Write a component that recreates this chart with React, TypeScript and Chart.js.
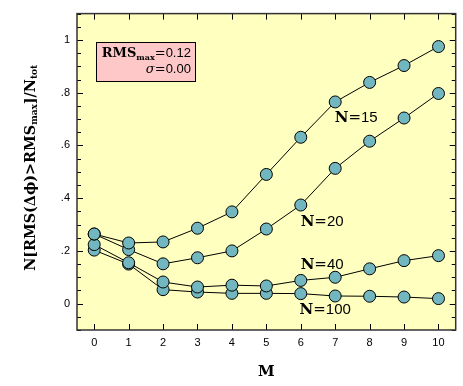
import React, { useEffect, useRef } from 'react';
import { Chart, registerables } from 'chart.js';

Chart.register(...registerables);

const mValues = [0, 1, 2, 3, 4, 5, 6, 7, 8, 9, 10];
const n15 = [0.264, 0.230, 0.234, 0.286, 0.348, 0.490, 0.631, 0.765, 0.839, 0.903, 0.975];
const n20 = [0.264, 0.205, 0.151, 0.174, 0.200, 0.283, 0.374, 0.513, 0.616, 0.704, 0.797];
const n40 = [0.224, 0.155, 0.082, 0.063, 0.070, 0.067, 0.088, 0.100, 0.132, 0.163, 0.182];
const n100 = [0.203, 0.150, 0.053, 0.044, 0.039, 0.039, 0.038, 0.029, 0.028, 0.025, 0.019];

const seriesNumbers = ['15', '20', '40', '100'];
const labelX = [7.61, 6.62, 6.62, 6.71];
const labelY = [0.703, 0.311, 0.148, -0.025];

const yTickValues = [0, 0.2, 0.4, 0.6, 0.8, 1];
const yTickLabels = ['0', '.2', '.4', '.6', '.8', '1'];
const xTickValues = mValues;

const BG = '#ffffc0';
const POINT = '#72b7bf';
const SERIF = '"DejaVu Serif", serif';
const SANS = '"Liberation Sans", Arial, sans-serif';

type Seg = { t: string; font: string; dy?: number };

function drawSegs(ctx: CanvasRenderingContext2D, segs: Seg[], x: number, y: number, align: 'left' | 'center' | 'right') {
  let total = 0;
  for (const s of segs) {
    ctx.font = s.font;
    total += ctx.measureText(s.t).width;
  }
  let cx = align === 'left' ? x : align === 'center' ? x - total / 2 : x - total;
  ctx.textAlign = 'left';
  for (const s of segs) {
    ctx.font = s.font;
    ctx.fillText(s.t, cx, y + (s.dy || 0));
    cx += ctx.measureText(s.t).width;
  }
}

const decorPlugin = {
  id: 'decor',
  beforeDraw(chart: any) {
    const { ctx, chartArea: a } = chart;
    ctx.save();
    ctx.fillStyle = BG;
    ctx.fillRect(a.left, a.top, a.right - a.left, a.bottom - a.top);
    ctx.restore();
  },
  afterDatasetsDraw(chart: any) {
    const { ctx } = chart;
    const xs = chart.scales.x;
    const ys = chart.scales.y;
    ctx.save();
    ctx.fillStyle = '#000';
    ctx.textBaseline = 'middle';
    for (let i = 0; i < seriesNumbers.length; i++) {
      const px = xs.getPixelForValue(labelX[i]);
      const py = ys.getPixelForValue(labelY[i]);
      drawSegs(ctx, [
        { t: 'N', font: `bold 15px ${SERIF}` },
        { t: '=', font: `15px ${SERIF}` },
        { t: seriesNumbers[i], font: `15px ${SANS}` },
      ], px, py, 'center');
    }
    // info box
    const bl = xs.getPixelForValue(0.05);
    const br = xs.getPixelForValue(2.94);
    const bt = ys.getPixelForValue(0.991);
    const bb = ys.getPixelForValue(0.843);
    ctx.fillStyle = '#ffc8c8';
    ctx.fillRect(bl, bt, br - bl, bb - bt);
    ctx.strokeStyle = '#000';
    ctx.lineWidth = 1;
    ctx.strokeRect(Math.round(bl) + 0.5, Math.round(bt) + 0.5, Math.round(br - bl), Math.round(bb - bt));
    ctx.fillStyle = '#000';
    ctx.textBaseline = 'alphabetic';
    drawSegs(ctx, [
      { t: 'RMS', font: `bold 13px ${SERIF}` },
      { t: 'max', font: `bold 8px ${SERIF}`, dy: 3 },
      { t: '=', font: `13px ${SERIF}` },
      { t: '0.12', font: `13px ${SANS}` },
    ], br - 4.5, bt + 15, 'right');
    drawSegs(ctx, [
      { t: 'σ', font: `italic 13px ${SERIF}` },
      { t: '=', font: `13px ${SERIF}` },
      { t: '0.00', font: `13px ${SANS}` },
    ], br - 4.5, bt + 31, 'right');
    ctx.restore();
  },
  afterDraw(chart: any) {
    const { ctx, chartArea: a } = chart;
    const xs = chart.scales.x;
    const ys = chart.scales.y;
    ctx.save();
    ctx.strokeStyle = '#000';
    ctx.lineWidth = 1;
    ctx.beginPath();
    for (const v of xTickValues) {
      const px = Math.round(xs.getPixelForValue(v)) + 0.5;
      ctx.moveTo(px, a.bottom);
      ctx.lineTo(px, a.bottom - 6);
      ctx.moveTo(px, a.top);
      ctx.lineTo(px, a.top + 6);
    }
    for (let k = -2; k <= 22; k++) {
      const v = k * 0.05;
      if (v < ys.min - 1e-9 || v > ys.max + 1e-9) continue;
      const py = Math.round(ys.getPixelForValue(v)) + 0.5;
      const len = k % 4 === 0 ? 6 : 4;
      ctx.moveTo(a.left, py);
      ctx.lineTo(a.left + len, py);
      ctx.moveTo(a.right, py);
      ctx.lineTo(a.right - len, py);
    }
    ctx.stroke();
    ctx.strokeStyle = '#333';
    ctx.lineWidth = 1.5;
    ctx.strokeRect(a.left, a.top, a.right - a.left, a.bottom - a.top);
    // axis titles
    ctx.fillStyle = '#000';
    ctx.textBaseline = 'middle';
    drawSegs(ctx, [{ t: 'M', font: `bold 15px ${SERIF}` }], (a.left + a.right) / 2, 372, 'center');
    ctx.translate(31, (a.top + a.bottom) / 2 - 4);
    ctx.rotate(-Math.PI / 2);
    drawSegs(ctx, [
      { t: 'N[RMS(Δϕ)>RMS', font: `bold 14.3px ${SERIF}` },
      { t: 'max', font: `bold 9px ${SERIF}`, dy: 4 },
      { t: ']/N', font: `bold 14.3px ${SERIF}` },
      { t: 'tot', font: `bold 9px ${SERIF}`, dy: 4 },
    ], 0, 0, 'center');
    ctx.restore();
  },
};

function makeDataset(values: number[]) {
  return {
    data: mValues.map((m, i) => ({ x: m, y: values[i] })),
    showLine: true,
    borderColor: '#000',
    borderWidth: 1,
    pointRadius: 6,
    pointBackgroundColor: POINT,
    pointBorderColor: '#000',
    pointBorderWidth: 1,
    clip: false as any,
  };
}

export default function App() {
  const ref = useRef<HTMLCanvasElement | null>(null);
  useEffect(() => {
    if (!ref.current) return;
    const chart = new Chart(ref.current, {
      type: 'scatter',
      data: {
        datasets: [makeDataset(n15), makeDataset(n20), makeDataset(n40), makeDataset(n100)],
      },
      options: {
        animation: false,
        responsive: false,
        devicePixelRatio: 1,
        layout: { padding: { top: 11.7, right: 7.3, left: 0, bottom: 0 } },
        plugins: { legend: { display: false }, tooltip: { enabled: false } },
        scales: {
          x: {
            type: 'linear',
            min: -0.5,
            max: 10.5,
            grid: { display: false, drawTicks: false, tickLength: 0 },
            border: { display: false },
            afterBuildTicks: (s: any) => { s.ticks = xTickValues.map((v) => ({ value: v })); },
            afterFit: (s: any) => { s.height = 56; },
            ticks: {
              color: '#000',
              padding: 6,
              font: { family: SANS, size: 11 },
              maxRotation: 0,
              autoSkip: false,
              callback: (v: any) => String(v),
            },
          },
          y: {
            type: 'linear',
            min: -0.1,
            max: 1.1,
            grid: { display: false, drawTicks: false, tickLength: 0 },
            border: { display: false },
            afterBuildTicks: (s: any) => { s.ticks = yTickValues.map((v) => ({ value: v })); },
            afterFit: (s: any) => { s.width = 77; },
            ticks: {
              color: '#000',
              padding: 7,
              font: { family: SANS, size: 11 },
              autoSkip: false,
              callback: (v: any) => {
                const i = yTickValues.findIndex((t) => Math.abs(t - v) < 1e-9);
                return i >= 0 ? yTickLabels[i] : '';
              },
            },
          },
        },
      },
      plugins: [decorPlugin],
    });
    return () => chart.destroy();
  }, []);
  return (
    <div style={{ position: 'absolute', left: 0, top: 0, width: 463, height: 386, background: '#fff' }}>
      <canvas ref={ref} width={463} height={386} style={{ width: 463, height: 386, display: 'block' }} />
    </div>
  );
}
